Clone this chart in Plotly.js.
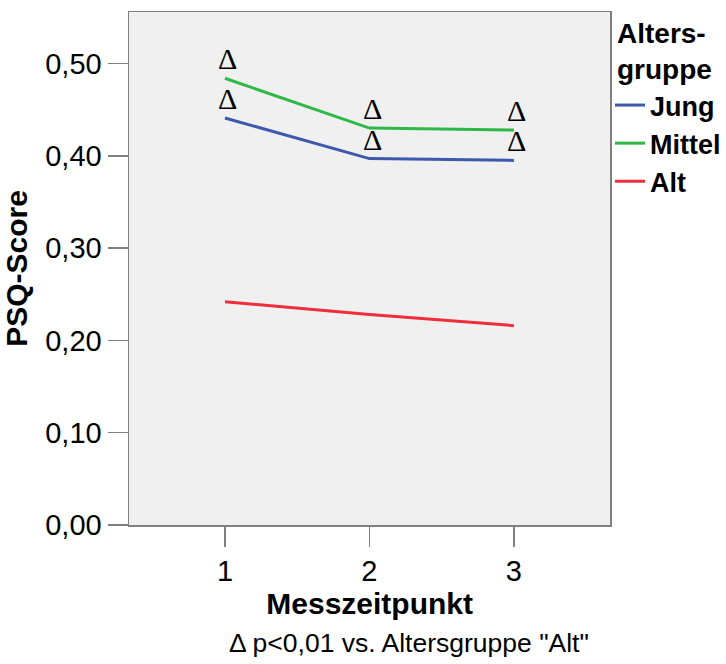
<!DOCTYPE html>
<html>
<head>
<meta charset="utf-8">
<script src="https://cdn.plot.ly/plotly-3.0.1.min.js"></script>
<style>html,body{margin:0;padding:0;background:#fff;}#chart{width:726px;height:664px;}</style>
</head>
<body>
<div id="chart"></div>
<script>
const messzeitpunkt = [1, 2, 3];
const seriesNames = ["Jung", "Mittel", "Alt"];
const jung = [0.441, 0.397, 0.395];
const mittel = [0.484, 0.430, 0.428];
const alt = [0.242, 0.228, 0.216];
const seriesColors = ["#3e58ac", "#2eb848", "#ee2e3a"];
const yTicks = [0, 0.1, 0.2, 0.3, 0.4, 0.5];
const legendTitle = "Alters-<br>gruppe";
const sigMarker = "\u0394";
const footnote = "\u0394 p<0,01 vs. Altersgruppe \"Alt\"";
const sigSeries = [jung, mittel];

// plot area geometry in pixels (for converting paper positions)
const L = 129, R = 611.7, T = 12, B = 525;
const px = x => (x - L) / (R - L);
const py = y => (B - y) / (B - T);

const values = [jung, mittel, alt];
const traces = values.map((v, i) => ({
  x: messzeitpunkt, y: v, type: "scatter", mode: "lines",
  name: seriesNames[i],
  line: {color: seriesColors[i], width: 3},
  hoverinfo: "skip"
}));

const annotations = [];
sigSeries.forEach(s => {
  s.forEach((v, j) => {
    annotations.push({
      x: messzeitpunkt[j], y: v, xref: "x", yref: "y",
      text: sigMarker, showarrow: false,
      xanchor: "center", yanchor: "bottom",
      xshift: 3, yshift: 1,
      font: {family: "Liberation Serif", size: 30, color: "#000"}
    });
  });
});
annotations.push({
  x: px(410), y: py(643), xref: "paper", yref: "paper",
  xanchor: "center", yanchor: "middle",
  text: footnote, showarrow: false,
  font: {family: "Liberation Sans, Arial", size: 26.5, color: "#000"}
});
annotations.push({
  x: px(616), y: py(16), xref: "paper", yref: "paper",
  xanchor: "left", yanchor: "top", align: "left", showarrow: false,
  text: "<b>" + legendTitle + "</b>",
  font: {family: "Liberation Sans, Arial", size: 28, color: "#000"}
});

const layout = {
  width: 726, height: 664,
  margin: {l: L, r: 726 - R, t: T, b: 664 - B},
  paper_bgcolor: "#ffffff", plot_bgcolor: "#f0f0f0",
  separators: ",.",
  font: {family: "Liberation Sans, Arial", color: "#000"},
  showlegend: true,
  legend: {
    xref: "container", yref: "container",
    x: 610 / 726, xanchor: "left", y: 1 - 81 / 664, yanchor: "top",
    bgcolor: "rgba(0,0,0,0)",
    font: {size: 27, family: "Liberation Sans, Arial", weight: "bold"},
    itemwidth: 30, tracegroupgap: 0
  },
  xaxis: {
    range: [0.336, 3.667], tickvals: messzeitpunkt, ticktext: messzeitpunkt.map(String),
    showline: true, linecolor: "#808080", linewidth: 1.5, mirror: true,
    ticks: "outside", ticklen: 20, tickcolor: "#808080", tickwidth: 1.5,
    showgrid: false, zeroline: false,
    tickfont: {size: 29},
    title: {text: "<b>Messzeitpunkt</b>", font: {size: 30}, standoff: 6}
  },
  yaxis: {
    range: [0, 0.5558], tickvals: yTicks, tickformat: ".2f",
    showline: true, linecolor: "#808080", linewidth: 1.5, mirror: true,
    ticks: "outside", ticklen: 20, tickcolor: "#808080", tickwidth: 1.5,
    showgrid: false, zeroline: false,
    tickfont: {size: 29},
    title: {text: "<b>PSQ-Score</b>", font: {size: 30}, standoff: 8}
  },
  annotations: annotations
};

Plotly.newPlot("chart", traces, layout, {displayModeBar: false, staticPlot: true});
</script>
</body>
</html>
